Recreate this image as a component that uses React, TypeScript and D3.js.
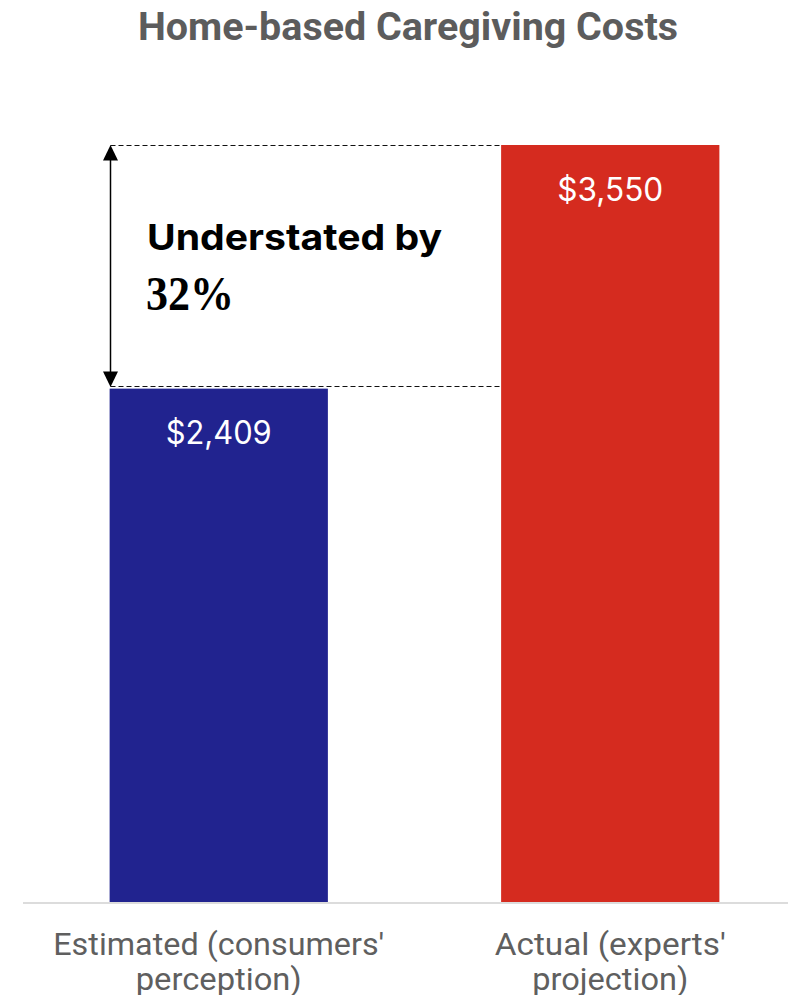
import React from "react";
import * as d3 from "d3";

const title = "Home-based Caregiving Costs";
const categories = ["Estimated (consumers' perception)", "Actual (experts' projection)"];
const categoryLines = [
  ["Estimated (consumers'", "perception)"],
  ["Actual (experts'", "projection)"],
];
const categoryLineWidths = [
  [331, 166],
  [231, 156],
];
const values = [2409, 3550];
const valueLabels = ["$2,409", "$3,550"];
const barColors = ["#21238f", "#d52b1f"];
const annotationLine1 = "Understated by";
const annotationLine2 = "32%";

const W = 788;
const H = 995;

export default function App() {
  const x = d3
    .scaleBand<string>()
    .domain(categories)
    .range([23, 806])
    .paddingInner(0.4425)
    .paddingOuter(0.22125);
  const y = d3.scaleLinear().domain([0, 3550]).range([903, 145]);

  const bw = x.bandwidth();
  const x0 = x(categories[0])!;
  const x1 = x(categories[1])!;
  const yTop = y(values[1]) + 0.5;
  const yLow = Math.round(y(values[0]) - 3) + 0.5;
  const arrowX = Math.round(x0) + 0.5;
  const head = 7.5;

  return (
    <svg
      width={W}
      height={H}
      style={{ position: "absolute", left: 0, top: 0, background: "#fff" }}
    >
      <text
        x={408}
        y={40}
        textAnchor="middle"
        fontFamily="Roboto, sans-serif"
        fontWeight={700}
        fontSize={38}
        fill="#5c5c5c"
        textLength={540}
        lengthAdjust="spacingAndGlyphs"
      >
        {title}
      </text>

      {categories.map((c, i) => (
        <rect
          key={c}
          x={x(c)}
          y={y(values[i])}
          width={bw}
          height={y(0) - y(values[i])}
          fill={barColors[i]}
        />
      ))}

      <line x1={23} x2={W} y1={903} y2={903} stroke="#dcdcdc" strokeWidth={2} />

      {categories.map((c, i) => (
        <text
          key={c + "v"}
          x={x(c)! + bw / 2}
          y={y(values[i]) + 55.5}
          textAnchor="middle"
          fontFamily="Inter, sans-serif"
          fontSize={32}
          fill="#ffffff"
          textLength={106}
          lengthAdjust="spacingAndGlyphs"
        >
          {valueLabels[i]}
        </text>
      ))}

      {categories.map((c, i) =>
        categoryLines[i].map((ln, j) => (
          <text
            key={c + "l" + j}
            x={x(c)! + bw / 2}
            y={955 + j * 34.5}
            textAnchor="middle"
            fontFamily="Roboto, sans-serif"
            fontSize={30.5}
            fill="#5f5f5f"
            textLength={categoryLineWidths[i][j]}
            lengthAdjust="spacingAndGlyphs"
          >
            {ln}
          </text>
        ))
      )}

      {/* dashed reference lines */}
      <line
        x1={arrowX}
        x2={x1}
        y1={yTop}
        y2={yTop}
        stroke="#111"
        strokeWidth={1}
        strokeDasharray="5,3"
      />
      <line
        x1={arrowX}
        x2={x1}
        y1={yLow}
        y2={yLow}
        stroke="#111"
        strokeWidth={1}
        strokeDasharray="5,3"
      />

      {/* double arrow */}
      <line
        x1={arrowX}
        x2={arrowX}
        y1={yTop + 10}
        y2={yLow - 10}
        stroke="#000"
        strokeWidth={1.5}
      />
      <path
        d={`M${arrowX},${yTop - 0.5} L${arrowX - head},${yTop + 15} L${arrowX + head},${yTop + 15} Z`}
        fill="#000"
      />
      <path
        d={`M${arrowX},${yLow + 0.5} L${arrowX - head},${yLow - 15} L${arrowX + head},${yLow - 15} Z`}
        fill="#000"
      />

      <text
        x={147}
        y={250}
        fontFamily="Inter, sans-serif"
        fontWeight={700}
        fontSize={36}
        fill="#000"
        textLength={295}
        lengthAdjust="spacingAndGlyphs"
      >
        {annotationLine1}
      </text>
      <text
        x={146}
        y={310}
        fontFamily="'Liberation Serif', serif"
        fontWeight={700}
        fontSize={49}
        fill="#000"
        textLength={88}
        lengthAdjust="spacingAndGlyphs"
      >
        {annotationLine2}
      </text>
    </svg>
  );
}
